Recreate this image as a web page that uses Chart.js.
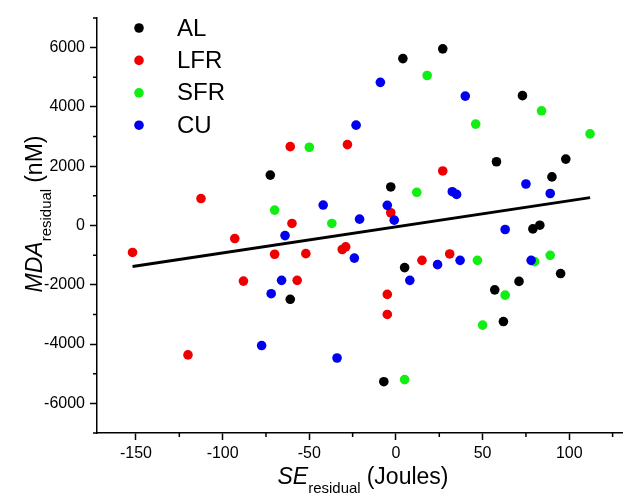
<!DOCTYPE html>
<html>
<head>
<meta charset="utf-8">
<script src="https://cdn.jsdelivr.net/npm/chart.js@4.4.1/dist/chart.umd.min.js"></script>
<style>
  html, body { margin: 0; padding: 0; background: #fff; }
  #wrap { width: 623px; height: 496px; }
</style>
</head>
<body>
<div id="wrap"><canvas id="chart" width="623" height="496"></canvas></div>
<script>
// series
var seriesNames = ['AL', 'LFR', 'SFR', 'CU'];
var seriesColors = ['#000000', '#ee0000', '#11ee11', '#0000ee'];

var alX = [-72.5, 4, 27, 73, 58, 98, -3, 90, 79, 83, -61, 5, 95, 71, 57, 62, -7];
var alY = [1700, 5630, 5960, 4380, 2150, 2240, 1300, 1640, -115, 10, -2490, -1420, -1620, -1885, -2170, -3240, -5270];

var lfrX = [-61, -28, -112.5, 27, -3, -60, -93, -152, -70, -52, -31, -29, -88, -57, -120, 15, 31, -5, -5];
var lfrY = [2660, 2730, 910, 1840, 430, 70, -440, -910, -970, -950, -810, -720, -1875, -1850, -4365, -1175, -960, -2325, -3000];

var sfrX = [-50, 18, 84, 46, 112, -70, 12, -37, 47, 80, 89, 63, 50, 5];
var sfrY = [2640, 5060, 3870, 3420, 3090, 520, 1120, 70, -1175, -1220, -1005, -2350, -3360, -5200];

var cuX = [-9, -23, 40, -42, 75, 32.5, 35, 89, -5, -1, -21, -64, -24, 63, 24, 37, 78, 8, -66, -72, -77.5, -34];
var cuY = [4830, 3385, 4365, 690, 1400, 1140, 1050, 1080, 680, 180, 215, -340, -1100, -135, -1320, -1175, -1175, -1850, -1850, -2300, -4050, -4470];

// linear fit line end points
var fitX = [-152, 112];
var fitY = [-1380, 940];

var xTicks = [-150, -100, -50, 0, 50, 100];
var xMinor = [-125, -75, -25, 25, 75, 125];
var yTicks = [-6000, -4000, -2000, 0, 2000, 4000, 6000];
var yMinor = [-7000, -5000, -3000, -1000, 1000, 3000, 5000, 7000];

var FONT = "'Liberation Sans', Arial, sans-serif";

function pts(xs, ys) {
    return xs.map(function (x, i) { return {x: x, y: ys[i]}; });
}

var allX = [alX, lfrX, sfrX, cuX];
var allY = [alY, lfrY, sfrY, cuY];
var datasets = seriesNames.map(function (name, i) {
    return {
        type: 'scatter',
        label: name,
        data: pts(allX[i], allY[i]),
        backgroundColor: seriesColors[i],
        borderWidth: 0,
        pointRadius: 4.8,
        order: 3 - i
    };
});
datasets.push({
    type: 'line',
    label: 'fit',
    data: pts(fitX, fitY),
    borderColor: '#000000',
    borderWidth: 3,
    pointRadius: 0,
    fill: false,
    order: -1
});

var minorTicks = {
    id: 'minorTicks',
    afterDraw: function (chart) {
        var ctx = chart.ctx, xs = chart.scales.x, ys = chart.scales.y;
        ctx.save();
        ctx.strokeStyle = '#000';
        ctx.lineWidth = 1.5;
        ctx.beginPath();
        xMinor.forEach(function (v) {
            var px = xs.getPixelForValue(v);
            if (px < xs.left || px > xs.right) return;
            ctx.moveTo(px, xs.top);
            ctx.lineTo(px, xs.top + 4);
        });
        yMinor.forEach(function (v) {
            var py = ys.getPixelForValue(v);
            ctx.moveTo(ys.right, py);
            ctx.lineTo(ys.right - 4, py);
        });
        ctx.stroke();
        ctx.restore();
    }
};

function drawParts(ctx, parts) {
    var total = 0;
    parts.forEach(function (p) { ctx.font = p.font; p.w = ctx.measureText(p.text).width; total += p.w + (p.gap || 0); });
    var x = -total / 2;
    parts.forEach(function (p) {
        ctx.font = p.font;
        ctx.fillText(p.text, x, p.dy || 0);
        x += p.w + (p.gap || 0);
    });
}

var axisTitles = {
    id: 'axisTitles',
    afterDraw: function (chart) {
        var ctx = chart.ctx;
        ctx.save();
        ctx.fillStyle = '#000';
        ctx.textBaseline = 'alphabetic';
        ctx.textAlign = 'left';
        // x title
        ctx.save();
        ctx.translate(363, 484);
        drawParts(ctx, [
            {text: 'SE', font: 'italic 23px ' + FONT},
            {text: 'residual', font: '15px ' + FONT, dy: 9, gap: 6},
            {text: '(Joules)', font: '23px ' + FONT}
        ]);
        ctx.restore();
        // y title
        ctx.save();
        ctx.translate(42, 214);
        ctx.rotate(-Math.PI / 2);
        drawParts(ctx, [
            {text: 'MDA', font: 'italic 23px ' + FONT},
            {text: 'residual', font: '15px ' + FONT, dy: 9, gap: 6},
            {text: '(nM)', font: '23px ' + FONT}
        ]);
        ctx.restore();
        ctx.restore();
    }
};

var insideLegend = {
    id: 'insideLegend',
    afterDraw: function (chart) {
        var ctx = chart.ctx;
        ctx.save();
        ctx.font = '24px ' + FONT;
        ctx.textBaseline = 'middle';
        ctx.textAlign = 'left';
        seriesNames.forEach(function (name, i) {
            var y = 28 + i * 32.4;
            ctx.fillStyle = seriesColors[i];
            ctx.beginPath();
            ctx.arc(139, y, 4.8, 0, Math.PI * 2);
            ctx.fill();
            ctx.fillStyle = '#000';
            ctx.fillText(name, 177, y + 1);
        });
        ctx.restore();
    }
};

new Chart(document.getElementById('chart'), {
    type: 'scatter',
    data: {datasets: datasets},
    options: {
        responsive: false,
        animation: false,
        devicePixelRatio: 1,
        layout: {autoPadding: false, padding: {top: 18, right: 0, left: 0, bottom: 0}},
        plugins: {legend: {display: false}, tooltip: {enabled: false}},
        scales: {
            x: {
                type: 'linear',
                min: -172.5,
                max: 131,
                afterBuildTicks: function (scale) {
                    scale.ticks = xTicks.map(function (v) { return {value: v}; });
                },
                afterFit: function (scale) {
                    scale.height = 63;
                    scale.paddingLeft = 0;
                    scale.paddingRight = 0;
                },
                grid: {drawOnChartArea: false, drawTicks: true, tickLength: 7, tickColor: '#000', tickWidth: 1.5},
                border: {display: true, color: '#000', width: 1.5},
                ticks: {color: '#000', font: {family: FONT, size: 16}, padding: 4, maxRotation: 0,
                        callback: function (v) { return String(v); }}
            },
            y: {
                type: 'linear',
                min: -7000,
                max: 7000,
                afterBuildTicks: function (scale) {
                    scale.ticks = yTicks.map(function (v) { return {value: v}; });
                },
                afterFit: function (scale) {
                    scale.width = 97;
                    scale.paddingTop = 0;
                    scale.paddingBottom = 0;
                },
                grid: {drawOnChartArea: false, drawTicks: true, tickLength: 7, tickColor: '#000', tickWidth: 1.5},
                border: {display: true, color: '#000', width: 1.5},
                ticks: {color: '#000', font: {family: FONT, size: 16}, padding: 5,
                        callback: function (v) { return String(v); }}
            }
        }
    },
    plugins: [minorTicks, axisTitles, insideLegend]
});
</script>
</body>
</html>
